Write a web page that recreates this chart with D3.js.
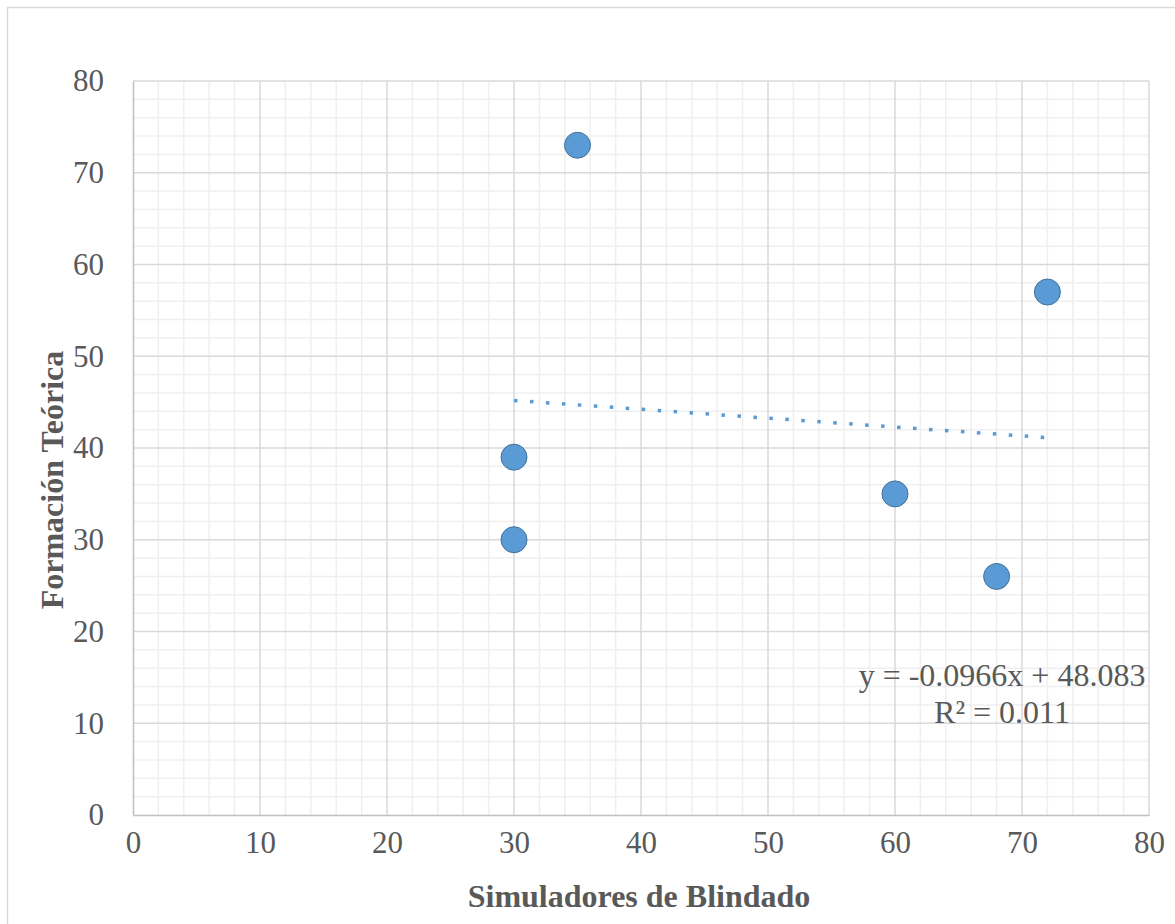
<!DOCTYPE html>
<html>
<head>
<meta charset="utf-8">
<script src="https://cdn.jsdelivr.net/npm/d3@7"></script>
<style>
  html, body { margin: 0; padding: 0; background: #fff; }
  svg { display: block; }
  text { font-family: "Liberation Serif", "Times New Roman", serif; fill: #595959; }
</style>
</head>
<body>
<svg id="chart" width="1175" height="924"></svg>
<script>
// Scatter data: Simuladores de Blindado (x) vs Formación Teórica (y)
const simuladores = [35, 72, 30, 30, 60, 68];
const formacion   = [73, 57, 39, 30, 35, 26];
const xTicks = [0, 10, 20, 30, 40, 50, 60, 70, 80];
const yTicks = [0, 10, 20, 30, 40, 50, 60, 70, 80];
const equationLines = ["y = -0.0966x + 48.083", "R² = 0.011"];

const svg = d3.select("#chart");
const plot = { left: 133, right: 1149, top: 81, bottom: 815 };

const x = d3.scaleLinear().domain([0, 80]).range([plot.left, plot.right]);
const y = d3.scaleLinear().domain([0, 80]).range([plot.bottom, plot.top]);

// Outer chart frame
svg.append("rect")
  .attr("x", 7.5).attr("y", 7.5)
  .attr("width", 1180).attr("height", 930)
  .attr("fill", "none").attr("stroke", "#d9d9d9").attr("stroke-width", 1.5);

// Minor gridlines (every 2 units)
const minor = d3.range(0, 81, 2).filter(v => v % 10 !== 0);
const grid = svg.append("g");
grid.selectAll(".mx").data(minor).join("line")
  .attr("x1", d => x(d)).attr("x2", d => x(d))
  .attr("y1", plot.top).attr("y2", plot.bottom)
  .attr("stroke", "#efefef").attr("stroke-width", 1.5);
grid.selectAll(".my").data(minor).join("line")
  .attr("y1", d => y(d)).attr("y2", d => y(d))
  .attr("x1", plot.left).attr("x2", plot.right)
  .attr("stroke", "#efefef").attr("stroke-width", 1.5);

// Major gridlines
grid.selectAll(".gx").data(xTicks.filter(d => d > 0)).join("line")
  .attr("x1", d => x(d)).attr("x2", d => x(d))
  .attr("y1", plot.top).attr("y2", plot.bottom)
  .attr("stroke", "#d9d9d9").attr("stroke-width", 1.5);
grid.selectAll(".gy").data(yTicks.filter(d => d > 0)).join("line")
  .attr("y1", d => y(d)).attr("y2", d => y(d))
  .attr("x1", plot.left).attr("x2", plot.right)
  .attr("stroke", "#d9d9d9").attr("stroke-width", 1.5);

// Axes
const xAxis = svg.append("g")
  .attr("transform", `translate(0,${plot.bottom})`)
  .call(d3.axisBottom(x).tickValues(xTicks).tickSize(0).tickPadding(16));
xAxis.select(".domain").attr("stroke", "#bfbfbf").attr("stroke-width", 1.5);
xAxis.selectAll("text").attr("font-size", 31).attr("fill", "#595959")
  .style("font-family", "'Liberation Serif', serif");

const yAxis = svg.append("g")
  .attr("transform", `translate(${plot.left},0)`)
  .call(d3.axisLeft(y).tickValues(yTicks).tickSize(0).tickPadding(29));
yAxis.select(".domain").attr("stroke", "#bfbfbf").attr("stroke-width", 1.5);
yAxis.selectAll("text").attr("font-size", 31).attr("fill", "#595959")
  .style("font-family", "'Liberation Serif', serif");

// Linear trendline (least squares) across the data range
const mx = d3.mean(simuladores), my = d3.mean(formacion);
const sxy = d3.sum(simuladores, (v, i) => (v - mx) * (formacion[i] - my));
const sxx = d3.sum(simuladores, v => (v - mx) ** 2);
const slope = sxy / sxx, intercept = my - slope * mx;
const [x0, x1] = d3.extent(simuladores);
svg.append("line")
  .attr("x1", x(x0)).attr("y1", y(intercept + slope * x0))
  .attr("x2", x(x1)).attr("y2", y(intercept + slope * x1))
  .attr("stroke", "#5b9bd5").attr("stroke-width", 3.5)
  .attr("stroke-dasharray", "3.5,12.5");

// Points
svg.append("g").selectAll("circle")
  .data(simuladores.map((v, i) => [v, formacion[i]]))
  .join("circle")
  .attr("cx", d => x(d[0])).attr("cy", d => y(d[1]))
  .attr("r", 13)
  .attr("fill", "#5b9bd5").attr("stroke", "#41719c").attr("stroke-width", 1);

// Trendline equation label
svg.append("g").selectAll("text").data(equationLines).join("text")
  .attr("x", 1002).attr("y", (d, i) => 686 + i * 37)
  .attr("text-anchor", "middle").attr("font-size", 32)
  .text(d => d);

// Axis titles
svg.append("text")
  .attr("x", 639).attr("y", 907)
  .attr("text-anchor", "middle").attr("font-size", 32).attr("font-weight", "bold")
  .text("Simuladores de Blindado");
svg.append("text")
  .attr("transform", "translate(63,480) rotate(-90)")
  .attr("text-anchor", "middle").attr("font-size", 32).attr("font-weight", "bold")
  .text("Formación Teórica");
</script>
</body>
</html>
